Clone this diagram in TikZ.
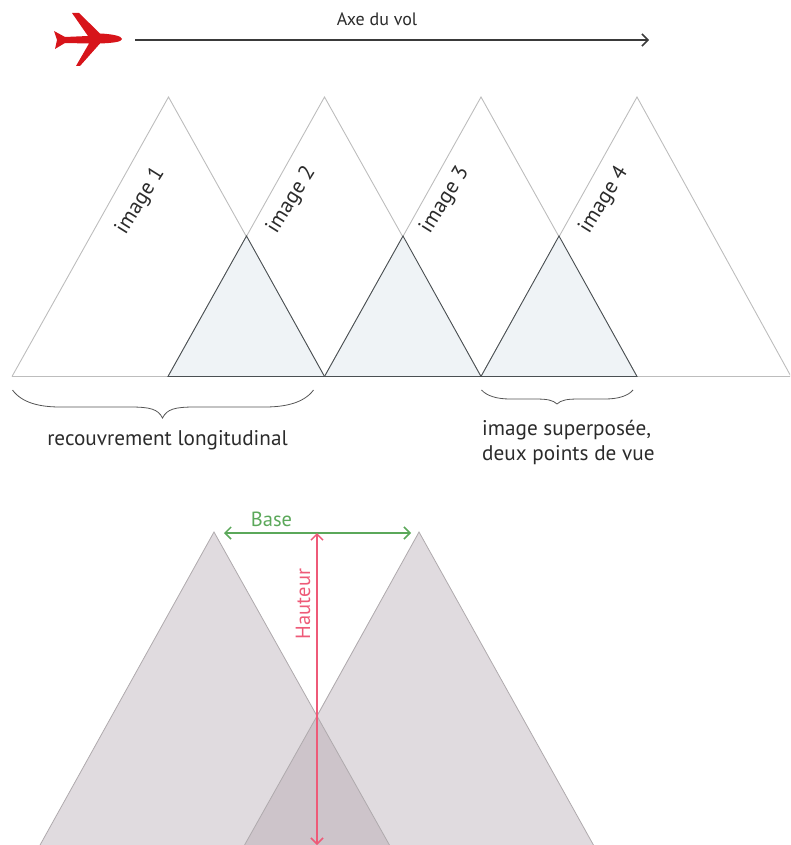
\documentclass[tikz,border=0pt]{standalone}
\usepackage{fontspec}
\setmainfont{PT Sans}
\usetikzlibrary{arrows.meta}
\definecolor{planered}{HTML}{D7141A}
\definecolor{edgegrey}{HTML}{BDBDBD}
\definecolor{overlapblue}{HTML}{EFF3F6}
\definecolor{darkedge}{HTML}{4A4F52}
\definecolor{arrowdark}{HTML}{3A3A3A}
\definecolor{bracegrey}{HTML}{555555}
\definecolor{textdark}{HTML}{2B2B2B}
\definecolor{mauve}{HTML}{E0DBDF}
\definecolor{mauvedark}{HTML}{CDC4CA}
\definecolor{mauveedge}{HTML}{AFAAAD}
\definecolor{basegreen}{HTML}{5BA85A}
\definecolor{hautpink}{HTML}{EE5A78}
\tikzset{
  x=1pt,y=-1pt,
  imgtri/.style={draw=edgegrey,line width=0.9pt,line join=miter},
  overlaptri/.style={draw=darkedge,fill=overlapblue,line width=0.9pt,line join=miter},
  brace line/.style={draw=bracegrey,line width=0.8pt},
  imglabel/.style={font=\fontsize{21.5}{24}\selectfont,text=textdark,rotate=58,inner sep=0pt},
  caption/.style={font=\fontsize{21.2}{25}\selectfont,text=textdark,inner sep=0pt},
  opentip/.style={-{Straight Barb[length=6pt,width=12pt,line width=1.5pt]}},
  bothtip/.style={{Straight Barb[length=6pt,width=12pt,line width=1.5pt]}-{Straight Barb[length=6pt,width=12pt,line width=1.5pt]}},
}
\begin{document}
\begin{tikzpicture}
\useasboundingbox (0,0) rectangle (790,845);
\clip (0,0) rectangle (790,845);
% plane
\fill[planered] (54,31) -- (65,37) -- (88,36) -- (72,13) -- (79,13) -- (100,33.5)
  .. controls (112,34) and (122,36) .. (122,39)
  .. controls (122,42) and (112,43) .. (100,43.5)
  -- (80,66) -- (76,66) -- (89,43.5) -- (65,43) -- (55,49) -- (57,40) -- cycle;
\coordinate (axisstart) at (135,40);
\coordinate (axisend) at (649,40);
\draw[opentip,arrowdark,line width=1.5pt] (axisstart) -- (axisend);
\node[font=\fontsize{18}{20}\selectfont,text=textdark,inner sep=0pt] (axislabel) at (377,19) {Axe du vol};
% image triangles
\coordinate (a1) at (168.5,97);
\coordinate (a2) at (324.5,97);
\coordinate (a3) at (481,97);
\coordinate (a4) at (637,97);
\coordinate (b0) at (12,376.5);
\coordinate (b1) at (168,376.5);
\coordinate (b2) at (324.5,376.5);
\coordinate (b3) at (481,376.5);
\coordinate (b4) at (637,376.5);
\coordinate (b5) at (791,376.5);
\draw[imgtri] (b0) -- (a1) -- (b2);
\draw[imgtri] (b1) -- (a2) -- (b3);
\draw[imgtri] (b2) -- (a3) -- (b4);
\draw[imgtri] (b3) -- (a4) -- (b5);
\draw[imgtri] (b0) -- (b5);
\coordinate (o1) at (246.5,236);
\coordinate (o2) at (403,236);
\coordinate (o3) at (559,236);
\draw[overlaptri] (b1) -- (o1) -- (b2) -- cycle;
\draw[overlaptri] (b2) -- (o2) -- (b3) -- cycle;
\draw[overlaptri] (b3) -- (o3) -- (b4) -- cycle;
\node[imglabel] (img1) at (140.5,201) {image 1};
\node[imglabel] (img2) at (291.5,200) {image 2};
\node[imglabel] (img3) at (445,200) {image 3};
\node[imglabel] (img4) at (604,200) {image 4};
% braces
\coordinate (bl) at (12.5,390);
\coordinate (bm) at (162.5,418);
\coordinate (br) at (313.5,390);
\draw[brace line] (bl) .. controls (22,403) and (40,407) .. (60,407)
  -- (130,407) .. controls (150,407) and (158,409) .. (bm)
  .. controls (167,409) and (175,407) .. (195,407)
  -- (265,407) .. controls (285,407) and (304,403) .. (br);
\coordinate (cl) at (481.5,390);
\coordinate (cm) at (557,404);
\coordinate (cr) at (633,390);
\draw[brace line] (cl) .. controls (487,396) and (497,399) .. (510,399)
  -- (535,399) .. controls (547,399) and (553,400) .. (cm)
  .. controls (561,400) and (567,399) .. (579,399)
  -- (605,399) .. controls (618,399) and (628,396) .. (cr);
\node[caption,anchor=center] (reclabel) at (167.5,440) {recouvrement longitudinal};
\node[caption,anchor=west,align=left] (suplabel) at (482,442) {image superposée,\\deux points de vue};
% lower triangles
\coordinate (la) at (214,532);
\coordinate (ra) at (419,532);
\coordinate (lb1) at (39.5,846);
\coordinate (lb2) at (390,846);
\coordinate (rb1) at (244,846);
\coordinate (rb2) at (594,846);
\coordinate (ov) at (317,716);
\fill[mauve] (lb1) -- (la) -- (lb2) -- cycle;
\fill[mauve] (rb1) -- (ra) -- (rb2) -- cycle;
\draw[mauveedge,line width=0.8pt] (lb1) -- (la) -- (ov);
\draw[mauveedge,line width=0.8pt] (ov) -- (ra) -- (rb2);
\draw[mauveedge,fill=mauvedark,line width=0.8pt] (rb1) -- (ov) -- (lb2);
% dimensions
\coordinate (gl) at (224,533);
\coordinate (gr) at (411,533);
\coordinate (pt) at (317,533);
\coordinate (pb) at (317,845);
\draw[bothtip,basegreen,line width=1.5pt] (gl) -- (gr);
\draw[bothtip,hautpink,line width=1.5pt] (pt) -- (pb);
\node[font=\fontsize{20.5}{22}\selectfont,text=basegreen,inner sep=0pt] (baselabel) at (271.5,519) {Base};
\node[font=\fontsize{20.5}{22}\selectfont,text=hautpink,rotate=90,inner sep=0pt] (hautlabel) at (303,604) {Hauteur};
\end{tikzpicture}
\end{document}
